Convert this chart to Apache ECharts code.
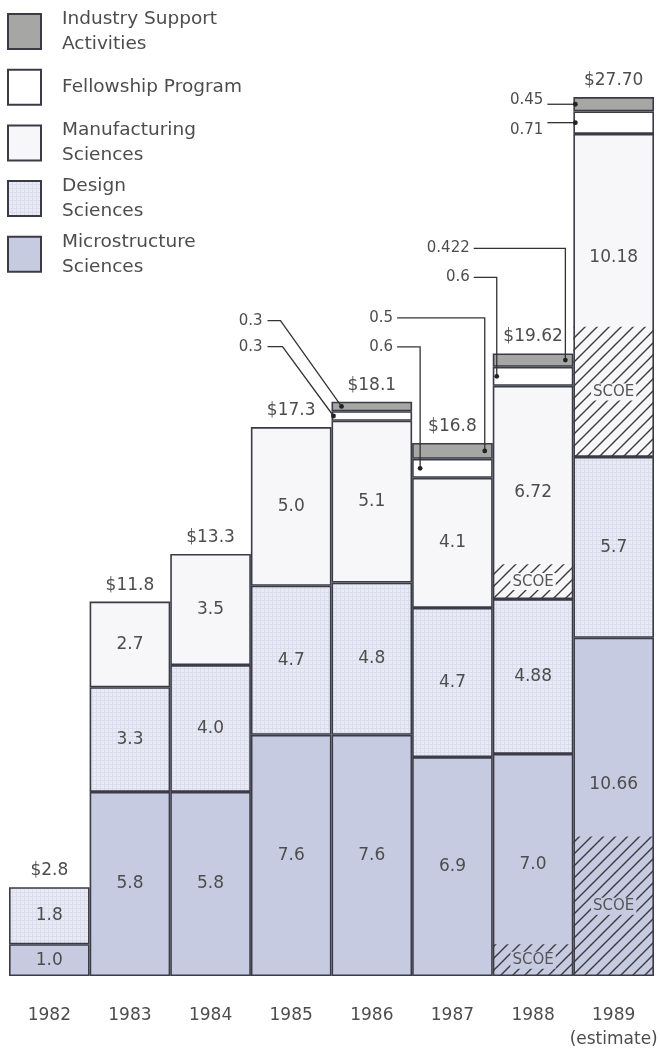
<!DOCTYPE html>
<html>
<head>
<meta charset="utf-8">
<script src="https://cdn.jsdelivr.net/npm/echarts@6/dist/echarts.min.js"></script>
<style>
  html, body { margin: 0; padding: 0; background: #ffffff; }
  #chart { width: 660px; height: 1048px; }
</style>
</head>
<body>
<div id="chart"></div>
<script>
// Program funding by year, $ millions
const years = ['1982', '1983', '1984', '1985', '1986', '1987', '1988', '1989'];
const yearLabels = ['1982', '1983', '1984', '1985', '1986', '1987', '1988', '1989\n(estimate)'];

const microstructure = [1.0, 5.8, 5.8, 7.6, 7.6, 6.9, 7.0, 10.66];
const design         = [1.8, 3.3, 4.0, 4.7, 4.8, 4.7, 4.88, 5.7];
const manufacturing  = [null, 2.7, 3.5, 5.0, 5.1, 4.1, 6.72, 10.18];
const fellowship     = [null, null, null, null, 0.3, 0.6, 0.6, 0.71];
const industry       = [null, null, null, null, 0.3, 0.5, 0.422, 0.45];

const totals    = [2.8, 11.8, 13.3, 17.3, 18.1, 16.8, 19.62, 27.70];
const totalText = ['$2.8', '$11.8', '$13.3', '$17.3', '$18.1', '$16.8', '$19.62', '$27.70'];

// SCOE share inside the microstructure and manufacturing blocks
const scoeMicro = [null, null, null, null, null, null, 1.0, 4.4];
const scoeManuf = [null, null, null, null, null, null, 1.1, 4.1];

const legendNames = [
  'Industry Support\nActivities',
  'Fellowship Program',
  'Manufacturing\nSciences',
  'Design\nSciences',
  'Microstructure\nSciences'
];

const FONT = 'DejaVu Sans';
const EDGE = '#3b3b47';
const TEXT = '#4d4d4d';
const C_MICRO = '#c6cbe2';
const C_MANUF = '#f7f7f9';
const C_FELLOW = '#ffffff';
const C_INDUSTRY = '#a6a6a4';

function designPattern() {
  const c = document.createElement('canvas');
  c.width = 4; c.height = 4;
  const g = c.getContext('2d');
  g.fillStyle = '#e9ebf4';
  g.fillRect(0, 0, 4, 4);
  g.fillStyle = '#dadded';
  g.fillRect(0, 0, 4, 1);
  g.fillRect(0, 0, 1, 4);
  return { image: c, repeat: 'repeat' };
}

function hatchPattern() {
  const s = 12;
  const c = document.createElement('canvas');
  c.width = s; c.height = s;
  const g = c.getContext('2d');
  g.strokeStyle = '#3a3a3a';
  g.lineWidth = 1.4;
  g.beginPath();
  g.moveTo(-1, 1); g.lineTo(1, -1);
  g.moveTo(0, s); g.lineTo(s, 0);
  g.moveTo(s - 1, s + 1); g.lineTo(s + 1, s - 1);
  g.stroke();
  return { image: c, repeat: 'repeat' };
}

const C_DESIGN = designPattern();
const HATCH = hatchPattern();

const fmt = v => (v % 1 === 0 ? v.toFixed(1) : String(v));

const valueLabel = {
  show: true,
  position: 'inside',
  color: TEXT,
  fontFamily: FONT,
  fontSize: 17,
  formatter: p => (p.value == null ? '' : fmt(p.value))
};

function block(name, data, fill, withLabel) {
  return {
    name: name,
    type: 'bar',
    stack: 'fund',
    data: data,
    barCategoryGap: '0%',
    barGap: '-100%',
    itemStyle: { color: fill, borderColor: EDGE, borderWidth: 1.6 },
    label: withLabel ? valueLabel : { show: false },
    emphasis: { disabled: true },
    silent: true
  };
}

// the estimate year's labels sit off-centre to clear the hatched SCOE zones
const microData = microstructure.map((v, i) => (i === 7 ? { value: v, label: { offset: [0, -22] } } : v));
const manufData = manufacturing.map((v, i) => (i === 7 ? { value: v, label: { offset: [0, -38] } } : v));

// gap between the two SCOE zones in the overlay stack
const scoeGap = years.map((_, i) =>
  scoeMicro[i] == null ? null : microstructure[i] + design[i] - scoeMicro[i]);

function scoeLabel(bg) {
  return {
    show: true,
    position: 'inside',
    formatter: 'SCOE',
    color: '#555555',
    fontFamily: FONT,
    fontSize: 15,
    backgroundColor: bg,
    padding: [1, 2]
  };
}

const series = [
  block('Microstructure Sciences', microData, C_MICRO, true),
  block('Design Sciences', design, C_DESIGN, true),
  block('Manufacturing Sciences', manufData, C_MANUF, true),
  block('Fellowship Program', fellowship, C_FELLOW, false),
  block('Industry Support Activities', industry, C_INDUSTRY, false),
  {
    name: 'SCOE microstructure',
    type: 'bar', stack: 'scoe', data: scoeMicro,
    barCategoryGap: '0%', barGap: '-100%',
    itemStyle: { color: HATCH, borderWidth: 0 },
    label: scoeLabel(C_MICRO),
    silent: true, emphasis: { disabled: true }
  },
  {
    name: 'scoe gap',
    type: 'bar', stack: 'scoe', data: scoeGap,
    barCategoryGap: '0%', barGap: '-100%',
    itemStyle: { color: 'rgba(0,0,0,0)', borderWidth: 0 },
    label: { show: false },
    silent: true, emphasis: { disabled: true }
  },
  {
    name: 'SCOE manufacturing',
    type: 'bar', stack: 'scoe', data: scoeManuf,
    barCategoryGap: '0%', barGap: '-100%',
    itemStyle: { color: HATCH, borderWidth: 0 },
    label: scoeLabel(C_MANUF),
    silent: true, emphasis: { disabled: true }
  },
  {
    name: 'Total',
    type: 'scatter',
    data: totals,
    symbolSize: 0,
    z: 5,
    silent: true,
    itemStyle: { opacity: 1, color: TEXT },
    label: {
      show: true,
      position: 'top',
      distance: 8,
      color: TEXT,
      opacity: 1,
      fontFamily: FONT,
      fontSize: 17,
      formatter: p => totalText[p.dataIndex]
    }
  }
];

const chart = echarts.init(document.getElementById('chart'), null, { renderer: 'canvas' });

chart.setOption({
  backgroundColor: '#ffffff',
  animation: false,
  grid: { left: 9, right: 6, top: 87.6, bottom: 72, containLabel: false, outerBoundsMode: 'none' },
  xAxis: {
    type: 'category',
    data: years,
    axisLine: { show: false },
    axisTick: { show: false },
    axisLabel: {
      interval: 0,
      margin: 28,
      lineHeight: 24,
      color: TEXT,
      fontFamily: FONT,
      fontSize: 17,
      formatter: (v, i) => yearLabels[i]
    }
  },
  yAxis: { type: 'value', min: 0, max: 28, show: false, splitLine: { show: false } },
  series: series
});

// ---- callouts for the thin bands and the legend, placed from the chart's own scales ----
const px = (i, v) => chart.convertToPixel({ gridIndex: 0 }, [i, v]);
const band = px(1, 0)[0] - px(0, 0)[0];
const barLeft = i => px(i, 0)[0] - band / 2;

function bandMid(i, which) {
  const base = microstructure[i] + design[i] + (manufacturing[i] || 0);
  if (which === 'fellowship') return px(i, base + fellowship[i] / 2)[1];
  return px(i, base + fellowship[i] + industry[i] / 2)[1];
}
function barTop(i) {
  return px(i, microstructure[i] + design[i] + (manufacturing[i] || 0) + (fellowship[i] || 0) + (industry[i] || 0))[1];
}
const bandValue = (i, which) => fmt(which === 'fellowship' ? fellowship[i] : industry[i]);

const callouts = [
  { i: 4, band: 'industry',   route: 'diag', rowUp: 81,  labelX: -69, elbowX: -51, hitX: 10 },
  { i: 4, band: 'fellowship', route: 'diag', rowUp: 55,  labelX: -69, elbowX: -49, hitX: 2 },
  { i: 5, band: 'industry',   route: 'drop', rowUp: 125, labelX: -19, hitFromRight: 8 },
  { i: 5, band: 'fellowship', route: 'drop', rowUp: 96,  labelX: -19, hitX: 8 },
  { i: 6, band: 'industry',   route: 'drop', rowUp: 105, labelX: -23, hitFromRight: 8 },
  { i: 6, band: 'fellowship', route: 'drop', rowUp: 76,  labelX: -23, hitX: 4 },
  { i: 7, band: 'industry',   route: 'flat', labelX: -30, textDy: -4 },
  { i: 7, band: 'fellowship', route: 'flat', labelX: -30, textDy: 7 }
];

const LINE = '#333333';
const graphics = [];

callouts.forEach(c => {
  const xL = barLeft(c.i);
  const top = barTop(c.i);
  const ay = bandMid(c.i, c.band);
  const labelRight = xL + c.labelX;
  let pts, textY, hx;
  if (c.route === 'flat') {
    hx = xL + 2;
    pts = [[labelRight + 4, ay], [hx, ay]];
    textY = ay + c.textDy;
  } else {
    const rowY = top - c.rowUp;
    hx = c.hitFromRight != null ? xL + band - c.hitFromRight : xL + c.hitX;
    if (c.route === 'diag') {
      pts = [[labelRight + 5, rowY], [xL + c.elbowX, rowY], [hx, ay]];
    } else {
      pts = [[labelRight + 4, rowY], [hx, rowY], [hx, ay]];
    }
    textY = rowY;
  }
  graphics.push({
    type: 'polyline', silent: true, z: 10,
    shape: { points: pts },
    style: { stroke: LINE, lineWidth: 1.3, fill: null }
  });
  graphics.push({
    type: 'circle', silent: true, z: 10,
    shape: { cx: hx, cy: ay, r: 2.4 },
    style: { fill: '#222222' }
  });
  graphics.push({
    type: 'text', silent: true, z: 10,
    style: {
      x: labelRight, y: textY,
      text: bandValue(c.i, c.band),
      align: 'right', verticalAlign: 'middle',
      fill: TEXT, fontFamily: FONT, fontSize: 15
    }
  });
});

// legend, top to bottom
const legendFills = [C_INDUSTRY, C_FELLOW, C_MANUF, C_DESIGN, C_MICRO];
legendNames.forEach((name, k) => {
  const y0 = 14 + k * 55.7;
  graphics.push({
    type: 'rect', silent: true,
    shape: { x: 8, y: y0, width: 33, height: 35 },
    style: { fill: legendFills[k], stroke: EDGE, lineWidth: 2 }
  });
  graphics.push({
    type: 'text', silent: true,
    style: {
      x: 62, y: y0 + 17.5,
      text: name,
      align: 'left', verticalAlign: 'middle',
      lineHeight: 25,
      fill: TEXT, fontFamily: FONT, fontSize: 18.5
    }
  });
});

chart.setOption({ graphic: graphics });
</script>
</body>
</html>
